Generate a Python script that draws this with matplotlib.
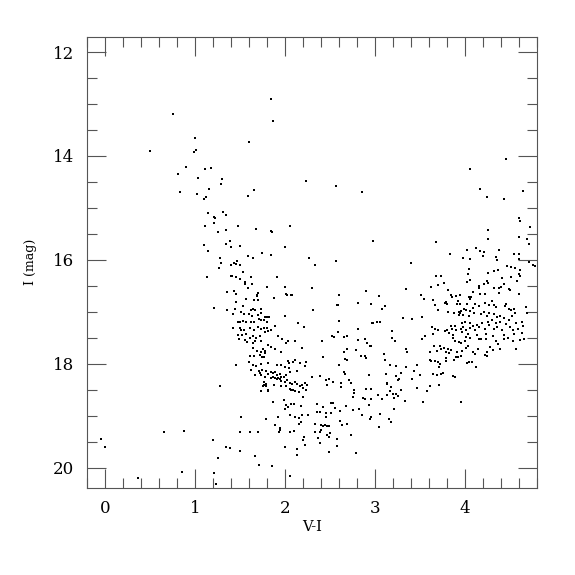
import matplotlib
matplotlib.use("Agg")
import matplotlib.pyplot as plt
from matplotlib.ticker import MultipleLocator

# colour index V-I and I magnitude of each star
pts = [
    (0.756,13.20),(1.003,13.65),(0.50,13.91),(1.01,13.88),(0.99,13.92),(0.90,14.22),(1.11,14.26),
    (1.18,14.24),(0.81,14.35),(1.03,14.42),(1.30,14.44),(1.29,14.54),
    (1.84,12.90),(1.87,13.33),(1.60,13.73),(2.23,14.49),(2.57,14.58),
    (4.45,14.06),(4.05,14.25),
    (0.83,14.69),(1.02,14.73),(1.15,14.63),(1.12,14.78),(1.10,14.82),(1.14,15.09),(1.31,15.08),
    (1.34,15.14),(1.21,15.17),(1.22,15.20),(1.21,15.29),(1.11,15.34),(1.34,15.43),(1.26,15.47),
    (1.39,15.63),(1.34,15.69),(1.40,15.76),(1.10,15.71),(1.14,15.82),(1.28,15.96),(1.29,16.06),
    (1.27,16.15),(1.40,16.09),(1.43,16.06),(1.45,16.08),(1.13,16.33),(1.40,16.31),(1.41,16.30),
    (1.45,16.32),(1.36,16.61),(1.43,16.59),(1.45,16.65),(1.21,16.93),(1.36,16.97),
    (1.28,18.42),(-0.05,19.45),(0.00,19.60),(0.65,19.31),(0.88,19.29),(1.20,19.47),
    (1.34,19.60),(1.39,19.62),(1.25,19.82),(0.85,20.08),(1.21,20.10),(0.37,20.19),(1.23,20.32),
    (1.66,14.65),(1.59,14.77),(2.85,14.70),(1.48,15.34),(1.68,15.40),(1.84,15.45),(1.86,15.47),
    (2.06,15.35),(2.98,15.63),(1.50,15.74),(2.00,15.76),(1.74,15.86),(1.84,15.90),(1.59,15.93),
    (1.64,15.97),(2.27,15.97),(2.33,16.10),(2.57,16.03),(1.47,16.02),(1.50,16.09),(1.53,16.24),
    (1.91,16.32),(1.62,16.33),(1.50,16.36),(1.56,16.42),(1.55,16.47),(1.63,16.46),(1.59,16.55),
    (1.80,16.52),(2.00,16.53),(2.30,16.54),(2.90,16.59),(1.70,16.63),(2.01,16.66),(2.08,16.67),
    (1.69,16.67),(2.60,16.67),(3.04,16.70),(2.81,16.83),(2.95,16.84),(3.11,16.88),(3.08,16.94),
    (2.58,16.87),(2.59,16.86),(2.31,16.97),(2.60,17.17),(2.59,17.38),(2.81,17.32),(2.97,17.22),
    (2.98,17.22),(3.02,17.19),(3.06,17.19),(2.52,17.47),(2.69,17.47),
    (4.17,14.63),(4.64,14.67),(4.24,14.79),(4.43,14.83),(4.60,15.19),(4.61,15.26),(4.72,15.37),
    (4.25,15.42),(4.26,15.60),(4.60,15.56),(4.69,15.60),(4.71,15.69),(3.68,15.65),(4.02,15.81),
    (4.12,15.78),(4.17,15.83),(4.21,15.85),(4.20,15.92),(4.38,15.81),(3.83,15.88),(3.98,15.97),
    (4.06,15.99),(4.35,15.95),(4.36,16.01),(4.54,15.88),(4.60,15.88),(4.60,15.99),(4.71,16.04),
    (4.75,16.09),(4.78,16.12),(3.40,16.05),(4.04,16.17),(4.47,16.12),(4.51,16.14),(4.55,16.16),
    (4.32,16.22),(4.37,16.20),(4.26,16.25),(4.61,16.20),(4.03,16.27),(4.60,16.28),(4.61,16.31),
    (3.68,16.31),(3.73,16.31),(4.05,16.38),(4.41,16.35),(4.51,16.33),(4.58,16.41),(4.24,16.40),
    (4.25,16.45),(4.43,16.46),(4.02,16.42),(3.77,16.44),(3.70,16.49),(3.62,16.53),(3.34,16.56),
    (4.16,16.50),(4.21,16.47),(4.16,16.55),(4.32,16.54),(4.38,16.55),(4.40,16.53),(4.38,16.64),
    (4.49,16.56),(4.50,16.57),(3.81,16.58),(3.84,16.68),(4.60,16.65),(4.09,16.62),(4.17,16.65),
    (4.22,16.65),(3.51,16.68),(3.54,16.76),(3.64,16.78),(3.86,16.71),(3.90,16.70),(3.94,16.68),
    (4.04,16.71),(4.06,16.75),(4.07,16.72),(3.79,16.81),(3.80,16.84),(3.78,16.83),(3.67,16.87),
    (3.92,16.79),(3.94,16.85),(3.91,16.85),(4.02,16.84),(4.11,16.84),(4.15,16.88),(4.09,16.93),
    (4.22,16.82),(4.27,16.86),(4.30,16.79),(4.32,16.87),(4.34,16.90),(4.44,16.88),(4.46,16.85),
    (4.49,16.94),(4.51,16.97),(3.70,16.96),(3.81,17.01),(3.31,17.12),(3.41,17.13),(3.52,17.09),
    (3.88,17.03),(3.93,17.00),(3.94,17.03),(3.95,16.98),(3.99,16.94),(4.01,16.96),(4.05,16.99),
    (3.93,17.06),(3.98,17.06),(4.04,17.08),(4.10,17.03),(4.18,17.05),(4.21,17.01),(4.24,17.07),
    (4.27,17.02),(4.32,17.05),(4.36,17.10),(4.39,17.08),(4.43,17.11),(4.54,16.95),(4.55,17.02),
    (4.52,17.08),(4.68,16.90),(4.69,17.03),(3.63,17.29),(3.67,17.33),(3.70,17.35),(3.78,17.37),
    (3.80,17.35),(3.84,17.28),(3.86,17.32),(3.89,17.28),(3.90,17.35),(3.97,17.22),(4.00,17.19),
    (3.98,17.29),(3.95,17.32),(4.01,17.35),(3.97,17.39),(4.06,17.22),(4.06,17.31),(4.09,17.27),
    (4.11,17.35),(4.13,17.26),(4.16,17.30),(4.19,17.22),(4.22,17.32),(4.26,17.19),(4.27,17.26),
    (4.30,17.16),(4.34,17.22),(4.32,17.32),(4.36,17.29),(4.39,17.19),(4.41,17.35),(4.45,17.24),
    (4.49,17.16),(4.50,17.29),(4.53,17.35),(4.57,17.22),(4.59,17.32),(4.63,17.19),(4.64,17.28),
    (4.63,17.40),(3.19,17.37),(3.56,17.46),(3.64,17.42),(3.82,17.40),(3.87,17.45),(4.03,17.42),
    (4.13,17.45),(4.23,17.43),(4.31,17.46),(4.43,17.45),(4.54,17.42),
    (3.19,17.51),(3.22,17.57),(3.52,17.53),(3.66,17.66),(3.72,17.65),(3.77,17.69),(3.81,17.72),
    (3.73,17.72),(3.69,17.76),(3.61,17.78),(3.79,17.77),(3.84,17.74),(3.82,17.79),(3.87,17.51),
    (3.89,17.56),(3.93,17.58),(3.95,17.60),(4.00,17.56),(4.01,17.49),(4.06,17.50),(4.03,17.66),
    (4.01,17.69),(3.97,17.76),(3.91,17.77),(3.90,17.87),(3.88,17.93),(4.09,17.77),(4.11,17.81),
    (4.08,17.96),(4.04,17.96),(4.02,17.98),(4.12,18.07),(4.14,17.71),(4.15,17.53),(4.18,17.53),
    (4.23,17.52),(4.28,17.67),(4.31,17.74),(4.24,17.77),(4.22,17.83),(4.24,17.85),(4.34,17.56),
    (4.37,17.61),(4.39,17.72),(4.43,17.53),(4.48,17.51),(4.53,17.56),(4.57,17.72),(4.61,17.54),
    (4.66,17.53),(3.35,17.78),(3.34,17.71),(3.17,18.03),(3.23,18.05),(3.13,18.36),(3.18,18.44),
    (3.17,18.52),(3.13,18.60),(3.20,18.59),(3.23,18.59),(3.21,18.66),(3.26,18.62),(3.29,18.51),
    (3.21,18.86),(3.15,19.07),(3.18,19.12),(3.23,18.23),(3.25,18.32),(3.27,18.30),(3.29,18.17),
    (3.34,18.07),(3.41,18.29),(3.43,18.13),(3.47,18.03),(3.50,18.21),(3.47,18.46),(3.33,18.72),
    (3.53,18.74),(3.58,18.53),(3.61,18.43),(3.64,18.19),(3.69,18.21),(3.71,18.06),(3.72,18.01),
    (3.73,18.19),(3.76,18.17),(3.71,18.40),(3.87,18.23),(3.89,18.25),(3.96,18.74),(3.61,17.92),
    (3.62,17.94),(3.67,17.95),(3.70,17.97),(3.79,17.94),(3.79,17.88),(3.92,17.87),(3.95,17.85),
    (2.41,17.57),(2.42,17.86),(2.54,17.48),(2.66,17.49),
    (2.69,17.71),(2.66,17.78),(2.67,17.90),(2.69,17.93),(2.79,17.74),(2.84,17.85),(2.89,17.85),
    (2.90,17.88),(2.81,17.54),(2.89,17.53),(2.91,17.60),(2.94,17.65),(2.96,17.65),(3.10,17.81),
    (3.11,17.93),(2.30,18.25),(2.39,18.23),(2.45,18.31),(2.49,18.30),(2.53,18.35),(2.47,18.41),
    (2.60,18.03),(2.65,18.15),(2.67,18.20),(2.71,18.31),(2.73,18.36),(2.62,18.37),(2.62,18.44),
    (2.77,18.51),(2.77,18.57),(2.76,18.63),(2.90,18.49),(2.95,18.49),(2.93,18.22),(2.87,18.65),
    (2.89,18.68),(2.96,18.68),(3.03,18.60),(3.12,18.19),(3.05,18.96),(3.08,18.67),(3.13,18.38),
    (1.87,18.73),(1.99,18.70),(2.01,18.79),(2.00,18.86),(2.03,18.83),(2.07,18.78),(2.10,18.78),
    (2.18,18.81),(2.06,18.99),(2.11,19.02),(2.15,19.05),(2.19,18.99),(2.16,19.15),(2.18,19.12),
    (1.92,19.02),(1.79,19.07),(1.51,19.03),(1.89,19.18),(1.94,19.24),(1.93,19.31),(1.94,19.28),
    (2.06,19.31),(2.10,19.29),(2.21,19.40),(2.20,19.47),(2.26,18.99),(2.33,19.16),(2.36,18.92),
    (2.36,18.78),(2.39,18.92),(2.42,18.83),(2.45,18.94),(2.46,19.02),(2.51,18.94),(2.51,18.75),
    (2.53,18.76),(2.56,18.85),(2.61,18.90),(2.61,19.10),(2.68,18.81),(2.76,18.89),(2.82,18.86),
    (2.86,18.99),(2.94,19.06),(2.96,19.03),(2.93,18.79),(3.04,19.21),(2.40,19.18),(2.42,19.20),
    (2.44,19.18),(2.47,19.20),(2.49,19.19),(2.33,19.31),(2.39,19.31),(2.40,19.28),(2.47,19.37),
    (2.50,19.34),(2.49,19.40),(2.37,19.42),(2.39,19.52),(2.58,19.44),(2.58,19.58),(2.22,19.56),
    (2.13,19.63),(2.13,19.76),(2.00,19.61),(2.49,19.70),(2.73,19.37),(2.69,19.16),(2.63,19.17),
    (2.79,19.72),(1.50,19.31),(1.61,19.31),(1.70,19.31),(1.50,19.68),(1.67,19.77),(1.71,19.94),
    (1.85,19.97),(2.05,20.16),
    # dense lower-left clump of the giant branch
    (1.460,16.801),(1.563,16.750),(1.656,16.763),(1.693,16.692),(1.700,16.763),(1.874,16.724),
    (2.071,16.679),(2.026,16.679),(1.441,16.942),(1.534,16.885),(1.619,16.961),(1.645,16.942),
    (1.663,16.961),(1.737,16.942),(1.508,16.994),(1.422,17.045),(1.545,17.045),(1.597,17.032),
    (1.634,17.077),(1.700,17.058),(1.737,17.026),(1.782,17.096),(1.804,17.102),(1.826,17.096),
    (2.004,17.083),(1.478,17.186),(1.497,17.199),(1.534,17.173),(1.571,17.186),(1.626,17.186),
    (1.656,17.199),(1.708,17.135),(1.730,17.154),(1.767,17.147),(1.797,17.199),(1.886,17.263),
    (2.145,17.218),(1.426,17.314),(1.497,17.314),(1.515,17.352),(1.545,17.340),(1.611,17.301),
    (1.656,17.340),(1.700,17.288),(1.737,17.327),(1.767,17.314),(1.797,17.314),(1.811,17.359),
    (1.841,17.346),(2.211,17.282),(1.478,17.442),(1.523,17.442),(1.571,17.429),(1.608,17.494),
    (1.648,17.455),(1.682,17.506),(1.723,17.455),(1.774,17.391),(1.923,17.455),(1.971,17.526),
    (2.034,17.558),(2.008,17.590),(1.485,17.526),(1.560,17.538),(1.582,17.583),(1.663,17.570),
    (1.737,17.570),(1.648,17.602),(1.811,17.635),(1.848,17.673),(1.886,17.711),(2.108,17.570),
    (2.193,17.686),(1.645,17.699),(1.756,17.711),(1.774,17.744),(1.737,17.763),(1.774,17.801),
    (1.693,17.750),(1.960,17.763),(1.611,17.846),(1.652,17.840),(1.726,17.827),(1.748,17.872),
    (1.767,17.865),(2.108,17.929),(2.089,17.974),(2.034,17.942),(2.048,17.987),(2.163,17.987),
    (2.237,17.968),(1.460,18.019),(1.600,17.974),(1.641,18.019),(1.678,18.051),(1.730,18.006),
    (1.811,17.987),(1.915,18.032),(1.960,18.032),(2.004,18.070),(2.048,18.083),(2.226,18.051),
    (1.619,18.115),(1.708,18.135),(1.719,18.167),(1.745,18.115),(1.793,18.147),(1.811,18.192),
    (1.841,18.160),(1.867,18.179),(1.893,18.160),(1.915,18.211),(1.941,18.199),(1.960,18.244),
    (1.989,18.263),(2.015,18.211),(2.056,18.160),(2.130,18.135),(1.663,18.224),(1.737,18.211),
    (1.782,18.263),(1.767,18.340),(1.841,18.276),(1.863,18.263),(1.886,18.276),(1.908,18.295),
    (1.923,18.269),(1.941,18.288),(1.960,18.327),(1.997,18.352),(2.026,18.308),(2.052,18.372),
    (2.078,18.391),(2.108,18.352),(2.137,18.391),(2.163,18.417),(2.189,18.404),(2.226,18.372),
    (2.248,18.404),(1.767,18.404),(1.793,18.417),(1.878,18.404),(1.960,18.417),(2.015,18.436),
    (2.063,18.500),(2.108,18.519),(2.200,18.468),(2.233,18.500),(1.811,18.532),(1.737,18.532),
    (1.79,18.38),(1.76,18.43),(1.81,18.51),(2.06,18.49),(2.09,18.51),(2.15,18.54),(2.20,18.63),
]
vi = [p[0] for p in pts]
imag = [p[1] for p in pts]

xticks = [0, 1, 2, 3, 4]
yticks = [12, 14, 16, 18, 20]

plt.rcParams['font.family'] = ['DejaVu Serif']

fig = plt.figure(figsize=(5.75, 5.75), dpi=100)
ax = fig.add_axes([87/575, 1-487.5/575, 450/575, 450.5/575])
ax.plot(vi, imag, linestyle='none', marker='s', ms=1.7, mew=0, color='black')

ax.set_xlim(-0.2, 4.8)
ax.set_ylim(20.38, 11.71)
ax.set_xticks(xticks)
ax.set_yticks(yticks)
ax.xaxis.set_minor_locator(MultipleLocator(0.2))
ax.yaxis.set_minor_locator(MultipleLocator(0.5))

gray = '#555555'
for s in ax.spines.values():
    s.set_color(gray)
    s.set_linewidth(0.8)
ax.tick_params(which='both', direction='in', top=True, right=True, color=gray, width=0.8,
               labelsize=12)
ax.tick_params(which='major', length=13.5, pad=9)
ax.tick_params(which='minor', length=7)

ax.set_xlabel('V-I', fontsize=10.5, labelpad=2)
ax.set_ylabel('I (mag)', fontsize=9, labelpad=12)

fig.savefig('out.png', dpi=100)
